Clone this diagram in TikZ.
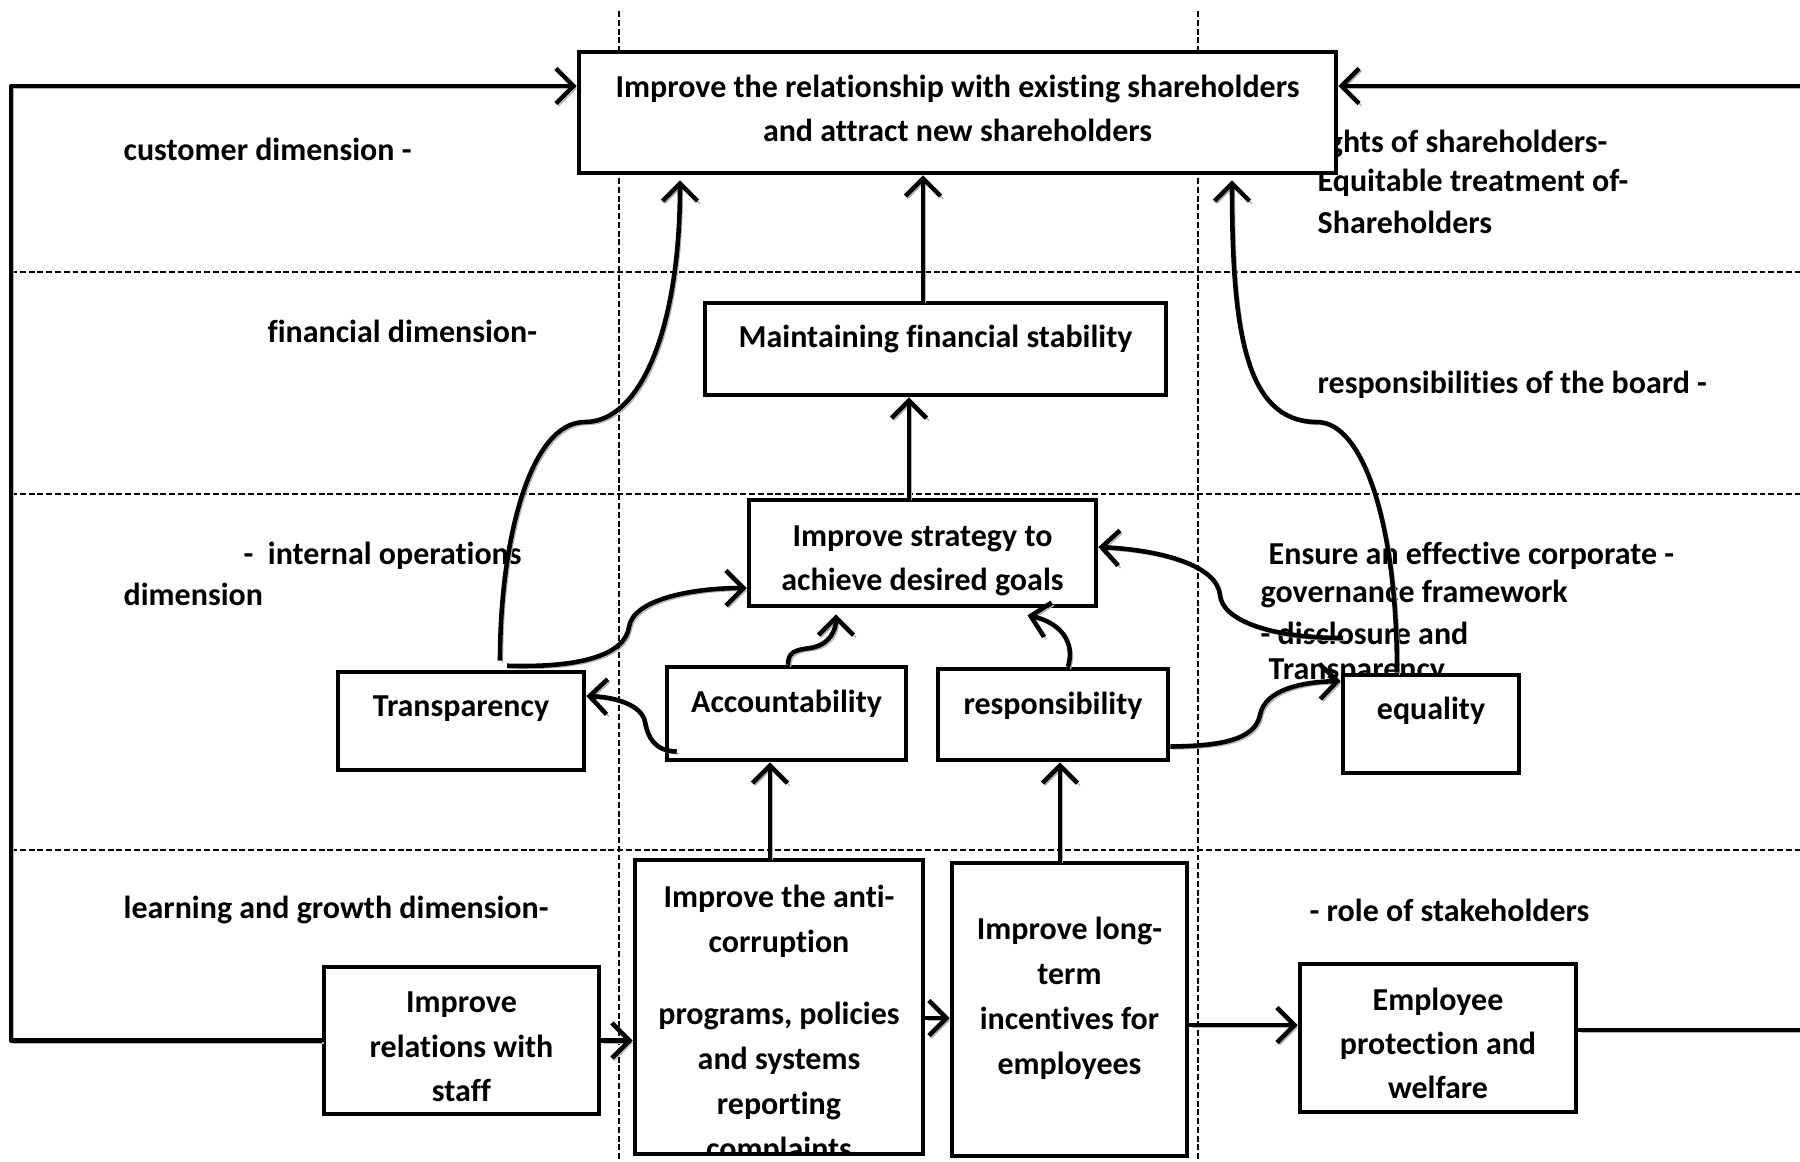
\documentclass[tikz,border=0pt]{standalone}
\usepackage{fontspec}
\setmainfont{Carlito}[Ligatures=NoCommon]
\usetikzlibrary{arrows.meta,calc}

\begin{document}
\begin{tikzpicture}[x=0.1mm, y=-0.1mm,
  every node/.style={font=\fontsize{9.1}{11}\selectfont\bfseries},
  box/.style={draw, line width=1.3pt, fill=white, align=center, inner sep=0pt,
    font=\fontsize{9.1}{12.6}\selectfont\bfseries},
  lbl/.style={anchor=west, inner sep=0pt},
  gridline/.style={line width=0.4pt, dash pattern=on 1.7pt off 0.8pt},
  con/.style={line width=1.3pt, line join=round,
    preaction={draw=gray!60, transform canvas={xshift=0.7pt,yshift=-0.7pt}}},
  arr/.style={con, -{Straight Barb[length=5pt,width=10pt]}}]
  \useasboundingbox (0,0) rectangle (1800,1161);

  % Grid of dimensions
  \draw[gridline] (11,272) -- (1800,272);
  \draw[gridline] (11,494) -- (1800,494);
  \draw[gridline] (11,850) -- (1800,850);
  \draw[gridline] (619,11) -- (619,1161);
  \draw[gridline] (1198,11) -- (1198,1161);

  % Dimensions (left)
  \node[lbl] (cust) at (123,149) {customer dimension -};
  \node[lbl] (finlbl) at (267,331) {financial dimension-};
  \node[lbl] (intlbl) at (243,556) {-\ \ internal operations};
  \node[lbl] (intlbl2) at (123,594) {dimension};
  \node[lbl] (learn) at (123,910) {learning and growth dimension-};

  % Principles (right)
  \node[lbl, anchor=east] (rights) at (1608,144) {Rights of shareholders-};
  \node[lbl] (equit) at (1317,183) {Equitable treatment of-};
  \node[lbl] (sharelbl) at (1317,222) {Shareholders};
  \node[lbl] (board) at (1317,385) {responsibilities of the board -};
  \node[lbl] (ensure) at (1268,556) {Ensure an effective corporate -};
  \node[lbl] (gov) at (1260,594) {governance framework};
  \node[lbl] (disclbl) at (1260,633) {- disclosure and};
  \node[lbl] (transplbl) at (1268,672) {Transparency};
  \node[lbl] (roles) at (1309,910) {- role of stakeholders};

  % Boxes
  \node[box, minimum width=75.7mm, minimum height=12.1mm] (goal) at (957.5,112.5)
    {Improve the relationship with existing shareholders\\and attract new shareholders\rule[-2.6pt]{0pt}{0pt}};
  \node[box, minimum width=46.1mm, minimum height=9.2mm, text depth=7pt] (fin) at (935.5,349)
    {Maintaining financial stability};
  \node[box, minimum width=34.7mm, minimum height=10.6mm] (strat) at (922.5,553)
    {\rule{0pt}{10.5pt}Improve strategy to\\achieve desired goals};
  \node[box, minimum width=24.6mm, minimum height=9.8mm, text depth=8.5pt] (trans) at (461,721)
    {Transparency};
  \node[box, minimum width=23.9mm, minimum height=9.3mm, text depth=6.8pt] (acc) at (786.5,713.5)
    {Accountability};
  \node[box, minimum width=23mm, minimum height=9.1mm, text depth=6.4pt] (resp) at (1053,714.5)
    {responsibility};
  \node[box, minimum width=17.6mm, minimum height=9.8mm, text depth=9.2pt] (equal) at (1431,724)
    {equality};
  \node[box, minimum width=27.5mm, minimum height=14.7mm] (staff) at (461.5,1040.5)
    {\rule{0pt}{9.5pt}Improve\\relations with\\staff};
  \node[box, minimum width=28.8mm, minimum height=29.4mm] (anti) at (779,1007) {};
  \node[box, minimum width=23.5mm, minimum height=29.3mm] (longterm) at (1069.5,1009.5) {};
  \node[box, minimum width=27.6mm, minimum height=14.8mm] (welfare) at (1438,1038)
    {\rule{0pt}{9.5pt}Employee\\protection and\\welfare};

  % Texts of the tall boxes
  \begin{scope}
    \clip ([shift={(0.7pt,0.7pt)}]anti.south west) rectangle ([shift={(-0.7pt,-0.7pt)}]anti.north east);
    \node[box, draw=none, fill=none, font=\fontsize{9.1}{12.8}\selectfont\bfseries] (antitxt) at (779,1025)
      {Improve the anti-\\corruption\\[7.7pt]programs, policies\\and systems\\reporting\\complaints};
  \end{scope}
  \node[box, draw=none, fill=none, font=\fontsize{9.1}{12.8}\selectfont\bfseries] (longtxt) at (1069.5,998.5)
    {Improve long-\\term\\incentives for\\employees};

  % Frame
  \coordinate (lt) at (11,86);
  \coordinate (rt) at (1800,86);
  \coordinate (rb) at (1800,1030);
  \coordinate (disc) at (1343,638);
  \draw[arr] (staff.west) -- (staff.west -| lt) -- (lt) -- (lt -| goal.west);
  \draw[arr] (rt) -- (rt -| goal.east);
  \draw[con] (rb -| welfare.east) -- (rb);

  % Bottom row
  \coordinate (a2) at ([yshift=-1.1mm]anti.east);
  \coordinate (l2) at ([yshift=-1.55mm]longterm.east);
  \draw[arr] (staff.east) -- (staff.east -| anti.west);
  \draw[arr] (a2) -- (a2 -| longterm.west);
  \draw[arr] (l2) -- (l2 -| welfare.west);

  % Straight arrows up
  \coordinate (a1) at ([xshift=-0.9mm]anti.north);
  \coordinate (l1) at ([xshift=-0.95mm]longterm.north);
  \coordinate (s1) at ([xshift=-1.35mm]strat.north);
  \coordinate (f1) at ([xshift=-1.25mm]fin.north);
  \draw[arr] (a1) -- (a1 |- acc.south);
  \draw[arr] (l1) -- (l1 |- resp.south);
  \draw[arr] (s1) -- (s1 |- fin.south);
  \draw[arr] (f1) -- (f1 |- goal.south);

  % Curved arrows
  \draw[arr] ([shift={(3.9mm,0.9mm)}]trans.north) .. controls (500,540) and (530,422) .. (585,422)
    .. controls (640,422) and (680,330) .. ([shift={(-27.75mm,-0.5mm)}]goal.south);
  \draw[arr] ([shift={(4.6mm,0.4mm)}]trans.north) .. controls (580,668) and (625,655) .. (629,627)
    .. controls (633,600) and (690,588) .. ([yshift=-3.5mm]strat.west);
  \draw[arr] ([shift={(1.2mm,-3.8mm)}]acc.west) .. controls (655,751) and (648,738) .. (645,722)
    .. controls (642,705) and (615,697) .. ([yshift=2.5mm]trans.east);
  \draw[arr] ([xshift=0.15mm]acc.north) .. controls (788,652) and (795,650) .. (810,648)
    .. controls (830,645) and (836,630) .. ([shift={(-8.65mm,-0.6mm)}]strat.south);
  \draw[arr] ([xshift=1.5mm]resp.north) .. controls (1076,640) and (1058,622) .. ([shift={(10.5mm,-0.7mm)}]strat.south);
  \draw[arr] ([yshift=-3.2mm]resp.east) .. controls (1220,746) and (1255,740) .. (1260,715)
    .. controls (1265,690) and (1300,682) .. ([yshift=4.3mm]equal.west);
  \draw[arr] ([xshift=-3.4mm]equal.north) .. controls (1397,520) and (1362,422) .. (1317,422)
    .. controls (1245,422) and (1232,330) .. ([shift={(27.45mm,-0.5mm)}]goal.south);
  \draw[arr] (disc) .. controls (1270,638) and (1222,620) .. (1220,595)
    .. controls (1217,565) and (1160,550) .. ([yshift=0.6mm]strat.east);
\end{tikzpicture}
\end{document}
